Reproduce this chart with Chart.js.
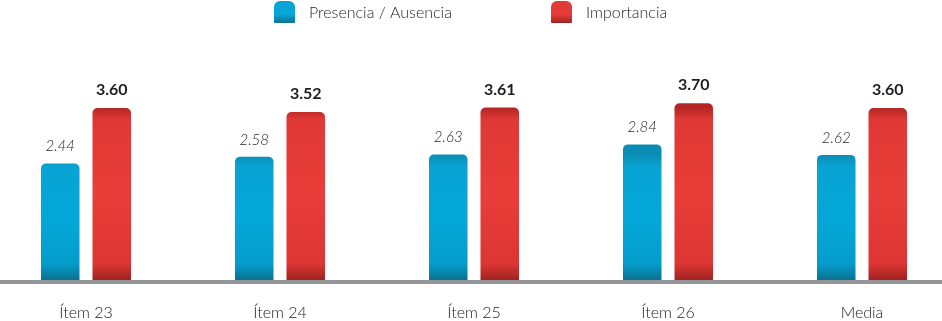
<!DOCTYPE html>
<html>
<head>
<meta charset="utf-8">
<script src="https://cdn.jsdelivr.net/npm/chart.js@4/dist/chart.umd.min.js"></script>
<style>
  html, body { margin: 0; padding: 0; background: #ffffff; overflow: hidden; }
  #wrap { position: absolute; left: -11px; top: 0; width: 970px; height: 321px; }
</style>
</head>
<body>
<div id="wrap"><canvas id="c" width="970" height="321"></canvas></div>
<script>
const categories = ['Ítem 23', 'Ítem 24', 'Ítem 25', 'Ítem 26', 'Media'];
const seriesNames = ['Presencia / Ausencia', 'Importancia'];
const presencia = [2.44, 2.58, 2.63, 2.84, 2.62];
const importancia = [3.60, 3.52, 3.61, 3.70, 3.60];

const FONT = 'Lato, "Open Sans", "DejaVu Sans", sans-serif';
const BLUE = '#04a7d8';
const RED = '#e73b37';

const STOPS = [
  // [topDark, topMain, main, bottomMain, bottomDark]
  ['#0a8db5', '#07a3d3', '#04a8d9', '#049ccb', '#0a7290'],
  ['#b52725', '#e03935', '#e93d39', '#db3633', '#a02321']
];

function shadeBar(ctx, bar, s) {
  const top = bar.y, bot = bar.base, h = Math.max(1, bot - top);
  const g = ctx.createLinearGradient(0, top, 0, bot);
  g.addColorStop(0, s[0]);
  g.addColorStop(Math.min(0.4, 12 / h), s[1]);
  g.addColorStop(0.5, s[2]);
  g.addColorStop(Math.max(0.6, 1 - 16 / h), s[3]);
  g.addColorStop(1, s[4]);
  return g;
}

const customPlugin = {
  id: 'custom',
  beforeDatasetsDraw(chart) {
    const ctx = chart.ctx;
    chart.data.datasets.forEach((ds, di) => {
      chart.getDatasetMeta(di).data.forEach(bar => {
        if (bar.options) bar.options.backgroundColor = shadeBar(ctx, bar, STOPS[di]);
      });
    });
  },
  afterDatasetsDraw(chart) {
    const ctx = chart.ctx;
    ctx.save();
    ctx.fillStyle = '#949599';
    ctx.fillRect(0, chart.chartArea.bottom, chart.width, 4);
    ctx.restore();
    chart.data.datasets.forEach((ds, di) => {
      const meta = chart.getDatasetMeta(di);
      meta.data.forEach((bar, i) => {
        const v = ds.data[i];
        ctx.save();
        ctx.textAlign = 'center';
        ctx.textBaseline = 'alphabetic';
        if (di === 0) {
          ctx.font = 'italic 300 15px ' + FONT;
          ctx.fillStyle = '#262626';
          ctx.fillText(v.toFixed(2), bar.x, bar.y - 12);
        } else {
          ctx.font = 'bold 16px ' + FONT;
          ctx.fillStyle = '#1e1e1e';
          ctx.fillText(v.toFixed(2), bar.x, bar.y - 13);
        }
        ctx.restore();
      });
    });
  },
  afterDraw(chart) {
    const ctx = chart.ctx;
    const items = [
      { x: 285, s: STOPS[0], label: chart.data.datasets[0].label },
      { x: 562, s: STOPS[1], label: chart.data.datasets[1].label }
    ];
    items.forEach(it => {
      ctx.save();
      const g = ctx.createLinearGradient(0, 1, 0, 23);
      g.addColorStop(0, it.s[1]);
      g.addColorStop(0.6, it.s[2]);
      g.addColorStop(1, it.s[4]);
      ctx.fillStyle = g;
      ctx.beginPath();
      ctx.roundRect(it.x, 1, 21, 22, [6, 6, 1, 1]);
      ctx.fill();
      ctx.font = '300 16px ' + FONT;
      ctx.fillStyle = '#262626';
      ctx.textAlign = 'left';
      ctx.textBaseline = 'middle';
      ctx.fillText(it.label, it.x + 35, 13);
      ctx.restore();
    });
  }
};

new Chart(document.getElementById('c'), {
  type: 'bar',
  data: {
    labels: categories,
    datasets: [
      { label: seriesNames[0], data: presencia, backgroundColor: BLUE,
        borderRadius: { topLeft: 5, topRight: 5, bottomLeft: 0, bottomRight: 0 }, borderSkipped: false },
      { label: seriesNames[1], data: importancia, backgroundColor: RED,
        borderRadius: { topLeft: 5, topRight: 5, bottomLeft: 0, bottomRight: 0 }, borderSkipped: false }
    ]
  },
  options: {
    responsive: false,
    animation: false,
    devicePixelRatio: 1,
    layout: { padding: { top: 89, left: 0, right: 0, bottom: 0 } },
    datasets: { bar: { categoryPercentage: 0.531, barPercentage: 0.748 } },
    plugins: { legend: { display: false }, tooltip: { enabled: false } },
    scales: {
      y: { display: false, min: 0, max: 4 },
      x: {
        grid: { display: false, drawTicks: false },
        border: { display: false },
        ticks: { padding: 23, color: '#222222', font: { family: FONT, size: 16, weight: '300' } },
        afterFit(scale) { scale.height = 41; }
      }
    }
  },
  plugins: [customPlugin]
});
</script>
</body>
</html>
